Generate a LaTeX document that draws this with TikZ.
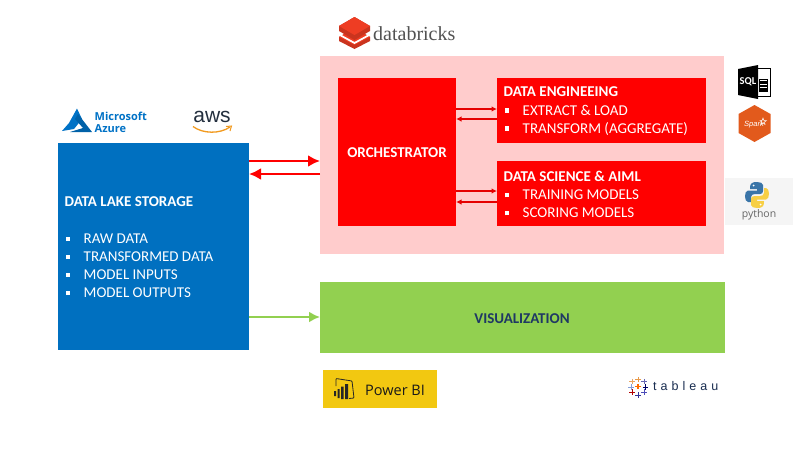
\documentclass[tikz,border=0pt]{standalone}
\usepackage{fontspec}
\setmainfont{Carlito}
\newfontfamily\logoserif{Liberation Serif}
\newfontfamily\logosans{Open Sans}
\newfontfamily\logoarial{Liberation Sans}
\definecolor{lakeblue}{HTML}{0070C0}
\definecolor{pinkbg}{HTML}{FFCCCC}
\definecolor{redbox}{HTML}{FF0000}
\definecolor{visgreen}{HTML}{92D050}
\definecolor{navytext}{HTML}{1F3864}
\definecolor{azureblue}{HTML}{0072C6}
\definecolor{dbred}{HTML}{EE3D23}
\definecolor{sparkorange}{HTML}{E25A1C}
\definecolor{pbiyellow}{HTML}{F2C811}
\definecolor{pyblue}{HTML}{3A75A8}
\definecolor{pyyellow}{HTML}{F7CF45}
\definecolor{awsink}{HTML}{232F3E}
\definecolor{awsorange}{HTML}{F29A1F}
\newcommand{\sqb}{\rule[2.6pt]{4.5pt}{4.5pt}\hspace{13.5pt}}
\newcommand{\tabplus}[4]{\draw[#4,line width=#3] (#1-2.6,#2) -- (#1+2.6,#2) (#1,#2-2.6) -- (#1,#2+2.6);}
\tikzset{
  x=1pt,y=-1pt,
  blockbox/.style={anchor=north west,inner sep=0pt,outer sep=0pt},
  titletext/.style={anchor=west,inner sep=0pt,text=white,font=\fontsize{15}{18}\selectfont\bfseries},
  listtext/.style={anchor=north west,inner sep=0pt,text=white,align=left,font=\fontsize{15}{18}\selectfont},
  bigarrow/.style={line width=2.8pt,-{Latex[length=12pt,width=12pt]}},
  smallarrow/.style={redbox!90!black,line width=1.4pt,-{Latex[length=5.5pt,width=5.5pt]}},
}
\usetikzlibrary{arrows.meta}
\begin{document}
\begin{tikzpicture}
\useasboundingbox (0,0) rectangle (800,450);
\fill[white] (0,0) rectangle (800,450);

% boxes
\node[blockbox,fill=lakeblue,minimum width=191pt,minimum height=207pt] (lake) at (58,143) {};
\node[blockbox,fill=pinkbg,minimum width=404pt,minimum height=198pt] (pink) at (320,56) {};
\node[blockbox,fill=redbox,minimum width=118pt,minimum height=148pt] (orch) at (338,78) {};
\node[blockbox,fill=redbox,minimum width=209pt,minimum height=65pt] (de) at (497,78) {};
\node[blockbox,fill=redbox,minimum width=209pt,minimum height=65pt] (ds) at (497,161) {};
\node[blockbox,fill=visgreen,minimum width=405pt,minimum height=71pt] (vis) at (320,282) {};

% box texts
\node[titletext] (laketitle) at (64.5,201.5) {DATA LAKE STORAGE};
\node[listtext] (lakelist) at (65.5,234) {\sqb RAW DATA\\\sqb TRANSFORMED DATA\\\sqb MODEL INPUTS\\\sqb MODEL OUTPUTS};
\node[inner sep=0pt,text=white,font=\fontsize{15}{18}\selectfont\bfseries] (orchtext) at (397,152.5) {ORCHESTRATOR};
\node[titletext] (detitle) at (503.5,92) {DATA ENGINEEING};
\node[listtext] (delist) at (504.5,105) {\sqb EXTRACT \& LOAD\\\sqb TRANSFORM (AGGREGATE)};
\node[titletext] (dstitle) at (503.5,176) {DATA SCIENCE \& AIML};
\node[listtext] (dslist) at (504.5,190) {\sqb TRAINING MODELS\\\sqb SCORING MODELS};
\node[inner sep=0pt,text=navytext,font=\fontsize{15}{18}\selectfont\bfseries] (vistext) at (522,318.5) {VISUALIZATION};

% connectors
\coordinate (r1) at (0,161); \coordinate (r2) at (0,174); \coordinate (g1) at (0,317);
\coordinate (s1) at (0,109); \coordinate (s2) at (0,119); \coordinate (s3) at (0,191); \coordinate (s4) at (0,202);
\draw[bigarrow,redbox] (lake.east |- r1) -- (pink.west |- r1);
\draw[bigarrow,redbox] (pink.west |- r2) -- (lake.east |- r2);
\draw[visgreen,line width=2.8pt,-{Latex[length=11pt,width=11pt]}] (lake.east |- g1) -- (vis.west |- g1);
\draw[smallarrow] (orch.east |- s1) -- (de.west |- s1);
\draw[smallarrow] (de.west |- s2) -- (orch.east |- s2);
\draw[smallarrow] (orch.east |- s3) -- (ds.west |- s3);
\draw[smallarrow] (ds.west |- s4) -- (orch.east |- s4);

% databricks logo
\fill[dbred!85!black] (339,37) -- (354.5,28) -- (370,37) -- (370,41) -- (354.5,49) -- (339,41) -- cycle;
\fill[dbred] (339,37) -- (354.5,28.5) -- (370,37) -- (354.5,45) -- cycle;
\fill[white] (338,33) -- (354.5,42) -- (371,33) -- (371,35) -- (354.5,44) -- (338,35) -- cycle;
\fill[dbred!85!black] (339,26) -- (354.5,17) -- (370,26) -- (370,31) -- (354.5,40) -- (339,31) -- cycle;
\fill[dbred] (339,26) -- (354.5,17) -- (370,26) -- (354.5,35) -- cycle;
\node[inner sep=0pt,anchor=west,text=black!68,font=\logoserif\fontsize{20}{20}\selectfont] (dbtext) at (373,33.5) {databricks};

% azure logo
\fill[azureblue] (77,108.5) -- (69,123) -- (62,131) -- (74,129) -- (82,119) -- cycle;
\fill[azureblue!85!black] (78,114) -- (92,132) -- (70,132) -- (83,128) -- (75,119) -- cycle;
\node[inner sep=0pt,anchor=west,text=azureblue,align=left,font=\logosans\fontsize{11}{12}\selectfont\bfseries] (azuretext) at (94.5,122) {Microsoft\\Azure};

% aws logo
\node[inner sep=0pt,text=awsink,font=\logoarial\fontsize{21}{21}\selectfont] (awstext) at (212,117) {aws};
\draw[awsorange,line width=1.3pt] (193,126.5) .. controls (203,134) and (220,134) .. (230,127);
\draw[awsorange,line width=1pt] (226,126.5) -- (231.5,126) -- (230,131);

% sql icon
\draw[black,line width=1pt] (755,68) -- (770.5,68) -- (770.5,96.5) -- (755,96.5);
\fill[black] (738,69) -- (758,65) -- (758,99) -- (738,95) -- cycle;
\node[inner sep=0pt,text=white,font=\fontsize{10.5}{10}\selectfont\bfseries] (sqltext) at (748,82) {SQL};
\foreach \yy in {81,84.5,88}{\fill[black] (760,\yy) rectangle (767,\yy+2.5);}
\draw[black,line width=.5pt] (759.5,79) rectangle (767.5,91);
\fill[white] (758.5,77.5) rectangle (768.5,79);

% spark icon
\fill[sparkorange] (754.5,105) -- (770.5,114) -- (770.5,133) -- (754.5,142) -- (738.5,133) -- (738.5,114) -- cycle;
\node[inner sep=0pt,text=white,font=\logoarial\fontsize{7.5}{8}\selectfont\itshape] (sparktext) at (754,124.5) {Spark};
\draw[white,line width=.5pt] (763,118) -- (764,120.5) -- (766.5,120.5) -- (764.5,122) -- (765,124.5) -- (763,123) -- (761,124.5) -- (761.5,122) -- (760,120.5) -- (762,120.5) -- cycle;

% python icon
\fill[black!4] (725,178) rectangle (793,225);
\fill[pyblue] (757,182) .. controls (750,182) and (750,185) .. (750,189) -- (757,189) -- (757,190.5) -- (748,190.5) .. controls (744,190.5) and (744,202) .. (748,202) -- (751,202) -- (751,197) .. controls (751,195) and (753,194) .. (755,194) -- (760,194) .. controls (762,194) and (763,193) .. (763,191) -- (763,185) .. controls (763,183) and (760,182) .. cycle;
\fill[pyyellow] (757,208) .. controls (764,208) and (764,205) .. (764,201) -- (757,201) -- (757,199.5) -- (766,199.5) .. controls (770,199.5) and (770,188) .. (766,188) -- (764,188) -- (764,193) .. controls (764,195) and (762,196) .. (760,196) -- (755,196) .. controls (752,196) and (751,197) .. (751,199) -- (751,205) .. controls (751,207) and (754,208) .. cycle;
\fill[white] (753.5,185.5) circle (1pt) (760.5,204.5) circle (1pt);
\node[inner sep=0pt,text=black!60,font=\logosans\fontsize{10.5}{10.5}\selectfont] (pytext) at (759,215) {python};

% power bi
\node[blockbox,fill=pbiyellow,minimum width=114pt,minimum height=38pt] (pbi) at (323,370) {};
\draw[black!85,line width=.8pt,rounded corners=.8pt] (336,386) -- (336,378.5) -- (352,381) -- (354,398) -- (349,398.5);
\fill[black!85] (334,391) rectangle (336,396) (337.5,389) rectangle (339.5,398) (341,386.5) rectangle (343.5,399) (345,384) rectangle (348,399);
\node[inner sep=0pt,anchor=west,text=black!90,font=\logosans\fontsize{14.5}{15}\selectfont] (pbitext) at (365,390) {Power BI};

% tableau
\tabplus{638}{386.5}{1.2pt}{orange!85!red}
\tabplus{638}{379.5}{.8pt}{orange!55!brown!80}
\tabplus{632}{381.5}{.8pt}{orange!50!brown!70}
\tabplus{644}{381.5}{.8pt}{blue!50!black!60}
\tabplus{631}{387}{.6pt}{cyan!40!blue!50}
\tabplus{645.5}{387}{.8pt}{blue!40!black}
\tabplus{632}{392}{.8pt}{red!70!black}
\tabplus{644}{392}{.8pt}{blue!60!black!70}
\tabplus{638}{395}{.8pt}{blue!50!black!80}
\node[inner sep=0pt,anchor=west,text=navytext!80!black,font=\logoarial\fontsize{12.5}{12}\selectfont] (tabtext) at (653,386) {t\hspace{4pt}a\hspace{4pt}b\hspace{4pt}l\hspace{4pt}e\hspace{4pt}a\hspace{4pt}u};
\end{tikzpicture}
\end{document}
